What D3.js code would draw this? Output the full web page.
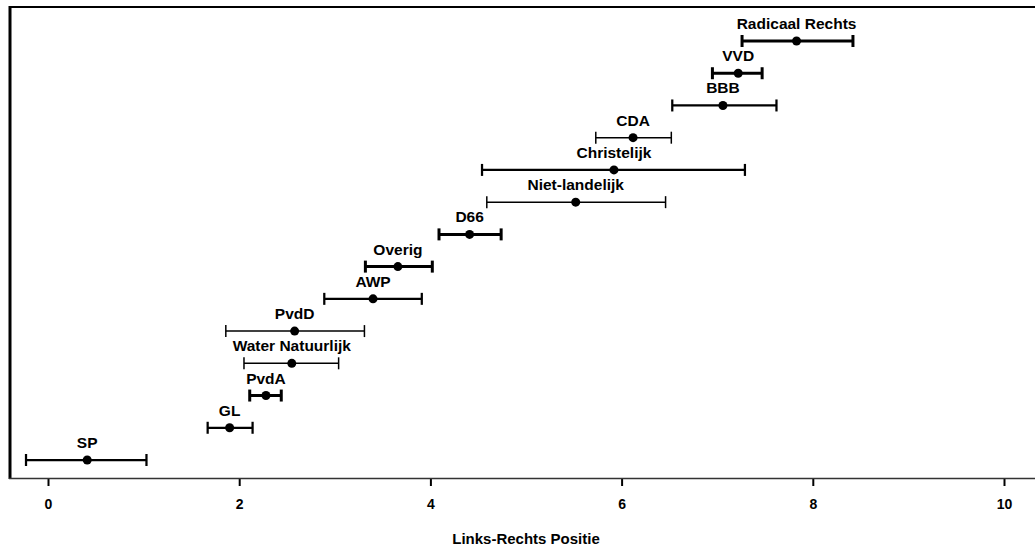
<!DOCTYPE html>
<html>
<head>
<meta charset="utf-8">
<script src="https://cdn.jsdelivr.net/npm/d3@7"></script>
<style>
  body { margin: 0; background: #fff; }
  text { font-family: "Liberation Sans", Arial, sans-serif; fill: #000; }
</style>
</head>
<body>
<div id="chart"></div>
<script>
// partijen van boven naar beneden
const partijen = ['Radicaal Rechts', 'VVD', 'BBB', 'CDA', 'Christelijk', 'Niet-landelijk', 'D66',
  'Overig', 'AWP', 'PvdD', 'Water Natuurlijk', 'PvdA', 'GL', 'SP'];
const gemiddelde = [7.83, 7.22, 7.06, 6.12, 5.92, 5.52, 4.41, 3.66, 3.40, 2.58, 2.55, 2.28, 1.90, 0.41];
const onder = [7.26, 6.95, 6.53, 5.73, 4.54, 4.59, 4.09, 3.32, 2.89, 1.86, 2.05, 2.11, 1.67, -0.23];
const boven = [8.42, 7.47, 7.62, 6.52, 7.29, 6.46, 4.74, 4.02, 3.91, 3.31, 3.04, 2.44, 2.14, 1.03];
// relatief gewicht (bepaalt lijndikte)
const gewicht = [3, 3, 2, 1, 2, 1, 3, 3, 2, 1, 1, 3, 2, 2];
const xTicks = [0, 2, 4, 6, 8, 10];

const width = 1035;
const height = 548;

const data = partijen.map((p, i) => ({
  naam: p, m: gemiddelde[i], lo: onder[i], hi: boven[i], w: gewicht[i]
}));

const svg = d3.select('#chart')
  .append('svg')
  .attr('width', width)
  .attr('height', height);

const x = d3.scaleLinear()
  .domain([0, 10])
  .range([48, 1004]);

const y = d3.scalePoint()
  .domain(partijen)
  .range([41, 460]);

const lw = d3.scaleLinear().domain([1, 3]).range([1.5, 3]);

// kader
svg.append('line')
  .attr('x1', 10).attr('x2', 10).attr('y1', 6).attr('y2', 479)
  .attr('stroke', '#000').attr('stroke-width', 3);
svg.append('line')
  .attr('x1', 9).attr('x2', width).attr('y1', 7).attr('y2', 7)
  .attr('stroke', '#000').attr('stroke-width', 2);

// x-as
const xAxis = g => g
  .attr('transform', 'translate(0,478)')
  .call(d3.axisBottom(x).tickValues(xTicks).tickSize(8).tickPadding(13).tickSizeOuter(0))
  .call(g => g.select('.domain').remove())
  .call(g => g.selectAll('.tick line').attr('stroke', '#000').attr('stroke-width', 2))
  .call(g => g.selectAll('.tick text')
    .attr('font-size', '14px').attr('font-weight', 'bold')
    .attr('font-family', '"Liberation Sans", Arial, sans-serif'));
svg.append('g').call(xAxis);

svg.append('line')
  .attr('x1', 9).attr('x2', width).attr('y1', 478.5).attr('y2', 478.5)
  .attr('stroke', '#333').attr('stroke-width', 1.5);

svg.append('text')
  .attr('x', 526).attr('y', 544)
  .attr('text-anchor', 'middle')
  .attr('font-size', '15px').attr('font-weight', 'bold')
  .text('Links-Rechts Positie');

// foutbalken
const rij = svg.append('g')
  .selectAll('g')
  .data(data)
  .join('g')
  .attr('transform', d => `translate(0,${y(d.naam)})`);

rij.append('line')
  .attr('x1', d => x(d.lo)).attr('x2', d => x(d.hi))
  .attr('stroke', '#000').attr('stroke-width', d => lw(d.w));

rij.selectAll('line.cap')
  .data(d => [d.lo, d.hi].map(v => ({ v, w: d.w })))
  .join('line')
  .attr('class', 'cap')
  .attr('x1', d => x(d.v)).attr('x2', d => x(d.v))
  .attr('y1', -6).attr('y2', 6)
  .attr('stroke', '#000').attr('stroke-width', d => lw(d.w));

rij.append('circle')
  .attr('cx', d => x(d.m))
  .attr('r', 4.5)
  .attr('fill', '#000');

rij.append('text')
  .attr('x', d => x(d.m))
  .attr('y', -12)
  .attr('text-anchor', 'middle')
  .attr('font-size', '15.5px').attr('font-weight', 'bold')
  .text(d => d.naam);
</script>
</body>
</html>
